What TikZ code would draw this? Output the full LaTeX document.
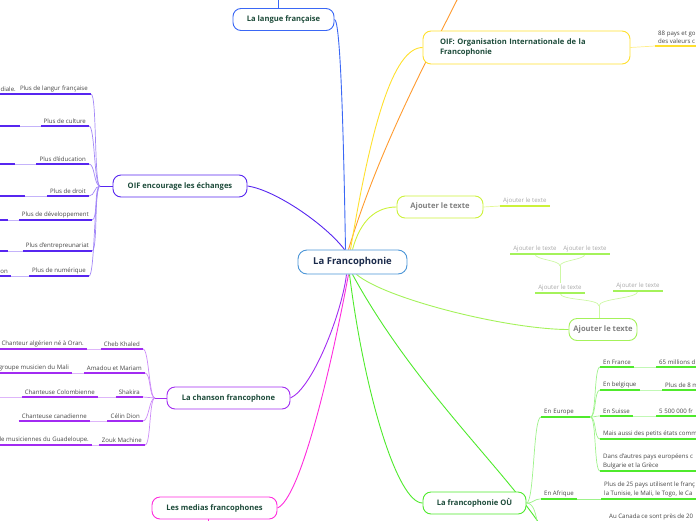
\documentclass[tikz,border=0pt]{standalone}
\usepackage{fontspec}
\setmainfont{Open Sans}
\usetikzlibrary{backgrounds}
\definecolor{rootblue}{HTML}{4C96D7}
\definecolor{navy}{HTML}{1B2B4B}
\definecolor{cblue}{HTML}{3A67F5}
\definecolor{corange}{HTML}{FF9A2E}
\definecolor{cyellow}{HTML}{FFE02E}
\definecolor{cyg}{HTML}{CCF23A}
\definecolor{clg}{HTML}{A4F25A}
\definecolor{cgreen}{HTML}{4FEA2C}
\definecolor{cviolet}{HTML}{5726F0}
\definecolor{cpurple}{HTML}{A22BF2}
\definecolor{cmag}{HTML}{FF2BDD}
\definecolor{tgreen}{HTML}{1D4B3A}
\definecolor{tgrey}{HTML}{444444}
\definecolor{tlight}{HTML}{A8A8A8}
\begin{document}
\begin{tikzpicture}[x=1pt, y=-1pt,
  root/.style={draw=rootblue, line width=0.9pt, rounded corners=9pt, fill=white,
    minimum width=109pt, minimum height=24pt, text=navy, font=\bfseries\fontsize{9.5}{11}\selectfont},
  topic/.style={draw=#1, line width=0.9pt, rounded corners=8pt, fill=white,
    minimum height=22pt, text=tgreen, font=\bfseries\fontsize{7.6}{10.5}\selectfont},
  leaf/.style={inner xsep=3pt, inner ysep=2pt, text=tgrey, font=\fontsize{6.1}{8.5}\selectfont,
    append after command={(\tikzlastnode.south west) edge[draw=#1, line width=1.7pt] (\tikzlastnode.south east)}},
  link/.style={draw=#1, line width=0.9pt},
  fork/.style={draw=#1!55, line width=0.7pt},
  twig/.style={draw=#1!35, line width=0.7pt}]

  \useasboundingbox (0,0) rectangle (696,520);

  % Centre
  \node[root] (franco) at (352.5,262) {La Francophonie};

  % Main topics
  \node[topic=cblue, minimum width=101pt] (langue) at (283.5,19.5) {La langue française};
  \node[topic=cyellow, minimum height=33pt, text width=173pt, inner xsep=17pt, align=left] (oif) at (526.5,47.5) {OIF: Organisation Internationale de la\\Francophonie};
  \node[topic=cyg, minimum width=86pt, text=gray] (ajout1) at (440,207) {Ajouter le texte};
  \node[topic=clg, minimum width=68pt, text=gray] (ajout2) at (603,329.5) {Ajouter le texte};
  \node[topic=cgreen, minimum width=103pt] (ou) at (474.5,503) {La francophonie OÙ};
  \node[topic=cviolet, minimum width=134pt] (echanges) at (180,186) {OIF encourage les échanges};
  \node[topic=cpurple, minimum width=123pt] (chanson) at (228.5,398) {La chanson francophone};
  \node[topic=cmag, minimum width=125pt] (medias) at (214.5,508) {Les medias francophones};

  % Loose ends
  \coordinate (langtop) at (278,-4);
  \coordinate (orangeend) at (459,-4);
  \coordinate (ouend) at (538,526);
  \coordinate (greenend) at (541,526);
  \coordinate (mediastail) at (208,526);
  \coordinate (shakiraend) at (-4,397);

  % OIF leaf
  \node[leaf=cyellow, anchor=south west, align=left] (oifpays) at (655,46) {88 pays et go\\des valeurs c};

  % Ajouter le texte leaves
  \node[leaf=cyg, anchor=south west, text=tlight] (aj1a) at (500,206) {Ajouter le texte};
  \node[leaf=clg, anchor=south, text=tlight] (aj2a) at (560,293) {Ajouter le texte};
  \node[leaf=clg, anchor=south, text=tlight] (aj2b) at (638,291) {Ajouter le texte};
  \node[leaf=clg, anchor=south, text=tlight] (aj2c) at (535,254) {Ajouter le texte};
  \node[leaf=clg, anchor=south, text=tlight] (aj2d) at (585,254) {Ajouter le texte};
  \coordinate (fk2) at (599,306);
  \coordinate (fk2a) at (560,266);

  % La francophonie OU
  \node[leaf=cgreen, anchor=south west, text width=43pt, align=left] (europe) at (541,417) {En Europe};
  \node[leaf=cgreen, anchor=south west] (afrique) at (541,499) {En Afrique};
  \node[leaf=cgreen, anchor=south west] (france) at (600,367) {En France};
  \node[leaf=cgreen, anchor=south west] (belgique) at (600,390) {En belgique};
  \node[leaf=cgreen, anchor=south west] (suisse) at (600,416) {En Suisse};
  \node[leaf=cgreen, anchor=south west] (petits) at (600,439) {Mais aussi des petits états comm};
  \node[leaf=cgreen, anchor=south west, align=left] (autres) at (600,471) {Dans d'autres pays européens c\\Bulgarie et la Grèce};
  \node[leaf=cgreen, anchor=south west] (france2) at (656,367) {65 millions d};
  \node[leaf=cgreen, anchor=south west] (belgique2) at (662,390) {Plus de 8 m};
  \node[leaf=cgreen, anchor=south west] (suisse2) at (656,416) {5 500 000 fr};
  \node[leaf=cgreen, anchor=south west, align=left] (pays25) at (601,499) {Plus de 25 pays utilisent le franç\\la Tunisie, le Mali, le Togo, le Ca};
  \node[leaf=cgreen, anchor=south west] (canada) at (606,522) {Au Canada ce sont près de 20};

  % OIF encourage les echanges
  \coordinate (fe) at (100,186);
  \node[leaf=cviolet, anchor=south east] (e1) at (91,94) {Plus de langur française};
  \node[leaf=cviolet, anchor=south east] (e2) at (89,126) {Plus de culture};
  \node[leaf=cviolet, anchor=south east] (e3) at (89,164) {Plus d'éducation};
  \node[leaf=cviolet, anchor=south east] (e4) at (89,196) {Plus de droit};
  \node[leaf=cviolet, anchor=south east] (e5) at (92,220) {Plus de développement};
  \node[leaf=cviolet, anchor=south east] (e6) at (92,251) {Plus d'entrepreunariat};
  \node[leaf=cviolet, anchor=south east] (e7) at (89,276) {Plus de numérique};
  \node[leaf=cviolet, anchor=south east] (s1) at (19,94) {diale.};
  \node[leaf=cviolet, anchor=south east, minimum width=20pt] (s2) at (20,126) {};
  \node[leaf=cviolet, anchor=south east, minimum width=15pt] (s3) at (15,164) {};
  \node[leaf=cviolet, anchor=south east, minimum width=25pt] (s4) at (25,196) {};
  \node[leaf=cviolet, anchor=south east, minimum width=8pt] (s5) at (8,220) {};
  \node[leaf=cviolet, anchor=south east, minimum width=8pt] (s6) at (8,251) {};
  \node[leaf=cviolet, anchor=south east] (s7) at (11,276) {on};

  % La chanson francophone
  \coordinate (fc) at (155,398);
  \node[leaf=cpurple, anchor=south east] (c1) at (143,349) {Cheb Khaled};
  \node[leaf=cpurple, anchor=south east] (c2) at (145,373) {Amadou et Mariam};
  \node[leaf=cpurple, anchor=south east] (c3) at (143,397) {Shakira};
  \node[leaf=cpurple, anchor=south east] (c4) at (143,421) {Célin Dion};
  \node[leaf=cpurple, anchor=south east] (c5) at (145,445) {Zouk Machine};
  \node[leaf=cpurple, anchor=south east] (d1) at (87,349) {Chanteur algérien né à Oran.};
  \node[leaf=cpurple, anchor=south east] (d2) at (72,373) {groupe musicien du Mali};
  \node[leaf=cpurple, anchor=south east] (d3) at (98,397) {Chanteuse Colombienne};
  \node[leaf=cpurple, anchor=south east] (d4) at (90,421) {Chanteuse canadienne};
  \node[leaf=cpurple, anchor=south east] (d5) at (92,445) {le musiciennes du Guadeloupe.};

  \begin{scope}[on background layer]
    % Links from the centre
    \draw[link=cblue] (langue.east) .. controls +(6,0) and +(-2,-120) .. ([xshift=-7pt]franco.north);
    \draw[link=corange] ([xshift=-4pt]franco.north) .. controls +(30,-100) and +(-30,60) .. (orangeend);
    \draw[link=cyellow] ([xshift=-2pt]franco.north) .. controls +(20,-120) and +(-30,0) .. (oif.west);
    \draw[link=cyg] (franco.north) .. controls +(8,-30) and +(-20,0) .. (ajout1.west);
    \draw[link=clg] ([xshift=4pt]franco.south) .. controls +(30,25) and +(-60,0) .. (ajout2.west);
    \draw[link=cgreen] ([xshift=-3pt]franco.south) .. controls +(15,120) and +(-25,0) .. (ou.west);
    \draw[link=cgreen] (franco.south) .. controls +(60,110) and +(-40,-60) .. (greenend);
    \draw[link=cviolet] (echanges.east) .. controls +(28,4) and +(-19,-25) .. ([xshift=-8pt]franco.north);
    \draw[link=cpurple] (chanson.east) .. controls +(22,-10) and +(-5,40) .. ([xshift=-6pt]franco.south);
    \draw[link=cmag] (medias.east) .. controls +(23,-10) and +(-18,96) .. ([xshift=-4pt]franco.south);

    % Right side
    \draw[link=cblue] ([xshift=-5.5pt]langue.north) -- (langtop);
    \draw[fork=cyellow] (oif.east) -- (oifpays.south west);
    \draw[fork=cyg] (ajout1.east) -- (aj1a.south west);
    \draw[fork=clg] ([xshift=-4pt]ajout2.north) -- (fk2);
    \draw[fork=clg] (fk2) .. controls +(0,-8) and +(0,8) .. (aj2a.south);
    \draw[fork=clg] (fk2) .. controls +(0,-8) and +(0,8) .. (aj2b.south);
    \draw[fork=clg] (aj2a.north) -- (fk2a);
    \draw[fork=clg] (fk2a) .. controls +(0,-6) and +(0,6) .. (aj2c.south);
    \draw[fork=clg] (fk2a) .. controls +(0,-6) and +(0,6) .. (aj2d.south);
    \draw[fork=cgreen] (ou.east) .. controls +(8,0) and +(-8,0) .. (europe.south west);
    \draw[fork=cgreen] (ou.east) .. controls +(8,0) and +(-8,0) .. (afrique.south west);
    \draw[fork=cgreen] (ou.east) .. controls +(8,0) and +(-2,-10) .. (ouend);
    \foreach \n in {france,belgique,suisse,petits,autres}
      \draw[fork=cgreen] (europe.south east) .. controls +(6,0) and +(-6,0) .. (\n.south west);
    \draw[twig=cgreen] (france.south east) -- (france2.south west);
    \draw[twig=cgreen] (belgique.south east) -- (belgique2.south west);
    \draw[twig=cgreen] (suisse.south east) -- (suisse2.south west);
    \draw[fork=cgreen] (afrique.south east) -- (pays25.south west);

    % Left side
    \draw[link=cviolet] (echanges.west) -- (fe);
    \foreach \n in {e1,e2,e3,e4,e5,e6,e7}
      \draw[fork=cviolet] (\n.south east) .. controls +(6,0) and +(-6,0) .. (fe);
    \draw[twig=cviolet] (s1.south east) -- (e1.south west);
    \draw[twig=cviolet] (s2.south east) -- (e2.south west);
    \draw[twig=cviolet] (s3.south east) -- (e3.south west);
    \draw[twig=cviolet] (s4.south east) -- (e4.south west);
    \draw[twig=cviolet] (s5.south east) -- (e5.south west);
    \draw[twig=cviolet] (s6.south east) -- (e6.south west);
    \draw[twig=cviolet] (s7.south east) -- (e7.south west);

    \draw[link=cpurple] (chanson.west) -- (fc);
    \foreach \n in {c1,c2,c3,c4,c5}
      \draw[fork=cpurple] (\n.south east) .. controls +(6,0) and +(-6,0) .. (fc);
    \draw[twig=cpurple] (d1.south east) -- (c1.south west);
    \draw[twig=cpurple] (d2.south east) -- (c2.south west);
    \draw[twig=cpurple] (d3.south east) -- (c3.south west);
    \draw[twig=cpurple] (d4.south east) -- (c4.south west);
    \draw[twig=cpurple] (d5.south east) -- (c5.south west);
    \draw[twig=cpurple] (d3.south west) -- (shakiraend);

    \draw[link=cmag] ([xshift=-6.5pt]medias.south) -- (mediastail);
  \end{scope}

\end{tikzpicture}
\end{document}
